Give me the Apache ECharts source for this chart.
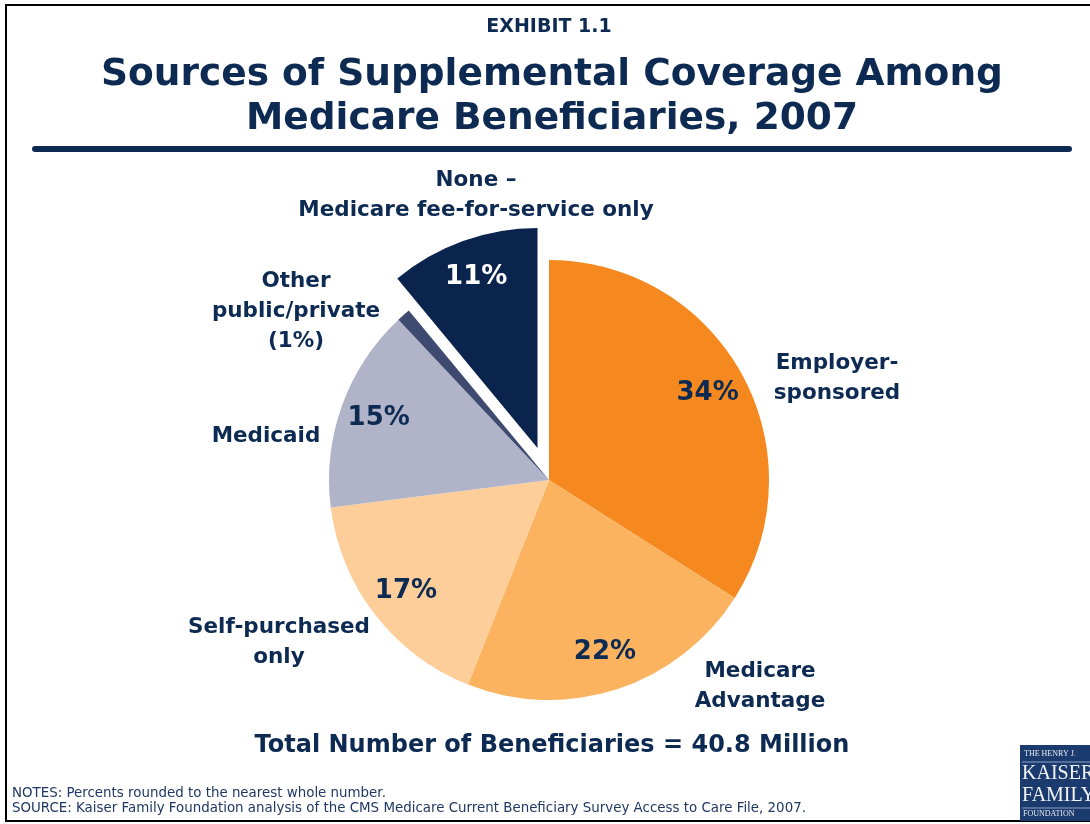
<!DOCTYPE html>
<html><head><meta charset="utf-8">
<script src="https://cdn.jsdelivr.net/npm/echarts@6/dist/echarts.min.js"></script>
<style>html,body{margin:0;padding:0;background:#fff}#c{width:1090px;height:824px}</style>
</head><body><div id="c"></div>
<script>
const categories = ['Employer-\nsponsored','Medicare\nAdvantage','Self-purchased\nonly','Medicaid','Other\npublic/private\n(1%)','None –\nMedicare fee-for-service only'];
const values = [34, 22, 17, 15, 1, 11];
const percentLabels = ['34%','22%','17%','15%','','11%'];
const colors = ['#F5891F','#FBB360','#FDCD9A','#B1B4C8','#3E4A70','#0B244E'];
const explodedIndex = 5;
const labelPos = [[837,378],[760,686],[279,642],[266,436],[296,311],[476,195]];
const navy = '#0D2A52';
const FONT = 'DejaVu Sans';

const chart = echarts.init(document.getElementById('c'));
const center = [549, 480];
// offset of the exploded slice along its mid angle
const explodeDist = 34;
const total = values.reduce((a,b)=>a+b,0);
let before = 0; for (let i=0;i<explodedIndex;i++) before += values[i];
const midAng = (before + values[explodedIndex]/2) / total * 2 * Math.PI;
const ex = explodeDist * Math.sin(midAng), ey = -explodeDist * Math.cos(midAng);
const clear = 'rgba(0,0,0,0)';

const mainData = categories.map((c,i)=>({name:c, value:values[i], itemStyle:{color: i===explodedIndex ? clear : colors[i]}}));
const explodeData = categories.map((c,i)=>({name:c, value:values[i], itemStyle:{color: i===explodedIndex ? colors[i] : clear}}));
const overlayData = categories.map((c,i)=>({name:c, value:values[i],
  label:{formatter: percentLabels[i], color: i===explodedIndex ? '#ffffff' : navy}}));

chart.setOption({
  animation:false,
  graphic:[
    {type:'rect', shape:{x:6,y:5,width:1100,height:816}, style:{fill:'none', stroke:'#000', lineWidth:2}},
    {type:'text', x:549, y:27, style:{text:'EXHIBIT 1.1', font:'bold 19px '+FONT, fill:navy, align:'center', verticalAlign:'middle'}},
    {type:'text', x:552, y:53, style:{text:'Sources of Supplemental Coverage Among\nMedicare Beneficiaries, 2007', font:'bold 37.5px '+FONT, fill:navy, align:'center', lineHeight:44}},
    {type:'line', shape:{x1:35,y1:149,x2:1069,y2:149}, style:{stroke:navy, lineWidth:6, lineCap:'round'}},
    {type:'text', x:552, y:746, style:{text:'Total Number of Beneficiaries = 40.8 Million', font:'bold 24px '+FONT, fill:navy, align:'center', verticalAlign:'middle'}},
    {type:'text', x:12, y:786, style:{text:'NOTES: Percents rounded to the nearest whole number.\nSOURCE: Kaiser Family Foundation analysis of the CMS Medicare Current Beneficiary Survey Access to Care File, 2007.', font:'13.4px '+FONT, fill:'#1F3864', lineHeight:15}},
    {type:'rect', shape:{x:1020,y:745,width:80,height:76}, style:{fill:'#1B3A6E'}},
    {type:'text', x:1024, y:750, style:{text:'THE HENRY J.', font:'8px "Liberation Serif"', fill:'#E8ECF4'}},
    {type:'line', shape:{x1:1022,y1:762,x2:1090,y2:762}, style:{stroke:'#8FA3C6', lineWidth:1}},
    {type:'text', x:1022, y:763, style:{text:'KAISER\nFAMILY', font:'20px "Liberation Serif"', fill:'#F2F4F8', lineHeight:22}},
    {type:'line', shape:{x1:1022,y1:808,x2:1090,y2:808}, style:{stroke:'#8FA3C6', lineWidth:1}},
    {type:'text', x:1023, y:810, style:{text:'FOUNDATION', font:'8px "Liberation Serif"', fill:'#E8ECF4'}}
  ],
  series:[
    {
      type:'pie', center:center, radius:[0,220], startAngle:90, clockwise:true, silent:true,
      data: mainData,
      label:{show:true, position:'outside', color:navy, fontFamily:FONT, fontWeight:'bold', fontSize:21.5, lineHeight:30, align:'center'},
      labelLine:{show:false},
      labelLayout:function(p){ const q=labelPos[p.dataIndex]; return {x:q[0], y:q[1], align:'center', verticalAlign:'middle'}; },
      emphasis:{disabled:true}
    },
    {
      type:'pie', center:[center[0]+ex, center[1]+ey], radius:[0,220], startAngle:90, clockwise:true, silent:true, z:2,
      data: explodeData,
      label:{show:false}, labelLine:{show:false},
      emphasis:{disabled:true}
    },
    {
      type:'pie', center:center, radius:[136,220], startAngle:90, clockwise:true, silent:true, z:3,
      data: overlayData,
      itemStyle:{color:clear},
      label:{show:true, position:'inside', fontFamily:FONT, fontWeight:'bold', fontSize:26},
      labelLine:{show:false},
      labelLayout:function(p){ return p.dataIndex===explodedIndex ? {dx:ex, dy:ey} : {}; },
      emphasis:{disabled:true}
    }
  ]
});
</script></body></html>
